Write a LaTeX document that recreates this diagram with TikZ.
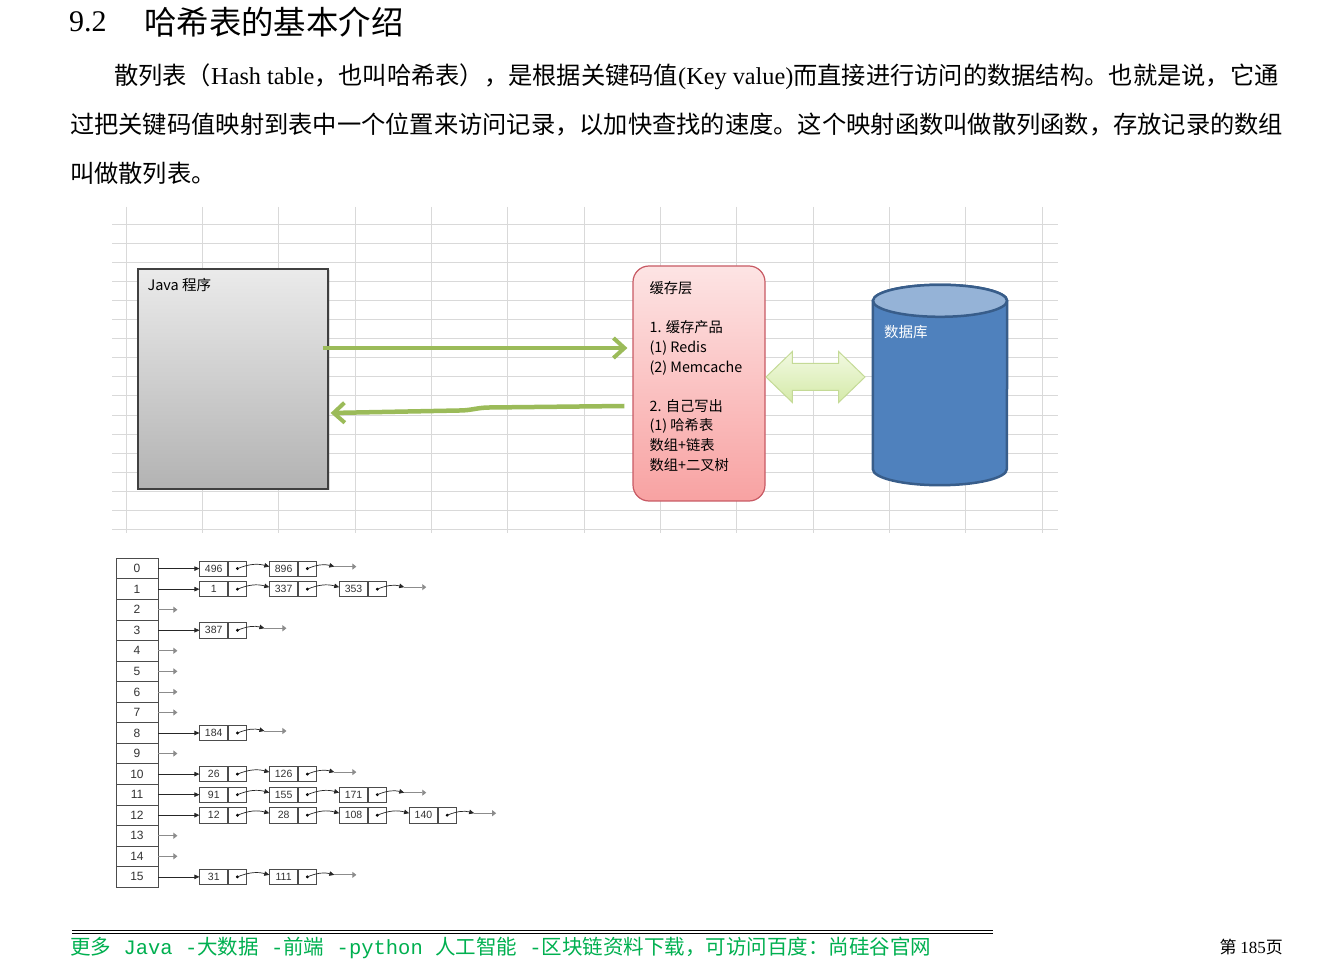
\documentclass[tikz,border=0pt]{standalone}
\usepackage{fontspec}
\setmainfont{Noto Sans CJK SC}
\newfontfamily\latserif{Liberation Serif}
\newfontfamily\arialfont{Liberation Sans}
\newfontfamily\dengkuan{Liberation Mono}
\usetikzlibrary{arrows.meta,positioning,shapes.arrows,shadows}
\definecolor{WanggeGray}{RGB}{217,217,217}
\definecolor{JiantouGreen}{RGB}{155,187,89}
\definecolor{HuancunTop}{RGB}{253,228,228}
\definecolor{HuancunBottom}{RGB}{248,162,162}
\definecolor{HuancunBorder}{RGB}{200,90,100}
\definecolor{QianlvTop}{RGB}{242,249,226}
\definecolor{QianlvBottom}{RGB}{212,234,168}
\definecolor{QianlvBorder}{RGB}{196,218,150}
\definecolor{ShujuBlue}{RGB}{79,129,189}
\definecolor{ShujuBlueLight}{RGB}{149,179,215}
\definecolor{ShujuBorder}{RGB}{56,93,138}
\definecolor{YejiaoGreen}{RGB}{0,176,80}
\tikzset{
  wangge/.style={draw=WanggeGray, line width=0.9pt},
  zhengwen/.style={anchor=west, inner sep=0pt, font=\fontsize{24.26}{28}\selectfont},
  javakuang/.style={draw=black!75, line width=1.3pt, top color=black!8, bottom color=black!30,
                    minimum width=190pt, minimum height=220pt,
                    drop shadow={opacity=0.25, shadow xshift=1.5pt, shadow yshift=-1.5pt}},
  huancunkuang/.style={draw=HuancunBorder, line width=1.2pt, rounded corners=16pt,
                    top color=HuancunTop, bottom color=HuancunBottom,
                    minimum width=132pt, minimum height=235pt},
  shuangjiantou/.style={double arrow, draw=QianlvBorder, line width=1pt, top color=QianlvTop,
                    bottom color=QianlvBottom, minimum height=99pt, minimum width=0pt,
                    double arrow head extend=12pt, double arrow tip angle=88,
                    inner xsep=0pt, inner ysep=13pt},
  shujukuti/.style={draw=ShujuBorder, line width=2.5pt, fill=ShujuBlue},
  lvjiantou/.style={draw=JiantouGreen, line width=4.5pt, -{Straight Barb[length=11pt,width=20pt,line width=4pt]}},
  suoyin/.style={draw=black!70, line width=0.8pt, minimum width=42pt, minimum height=20.55pt, inner sep=0pt,
                 text=black!80, font=\arialfont\fontsize{12}{12}\selectfont},
  zhi/.style={draw=black!70, line width=0.7pt, minimum width=28pt, minimum height=15.3pt, inner sep=0pt,
              text=black!80, font=\arialfont\fontsize{10.5}{10.5}\selectfont},
  zhizhen/.style={draw=black!70, line width=0.7pt, minimum width=18pt, minimum height=15.3pt, inner sep=0pt},
  lianjie/.style={black!85, line width=0.7pt, -{Triangle[length=5pt,width=4.5pt]}},
  kongjiantou/.style={black!45, line width=0.8pt, -{Triangle[length=4pt,width=6pt]}},
}

\begin{document}
\begin{tikzpicture}[x=1pt, y=-1pt]
  \fill[white] (0,0) rectangle (1318,965);
  \useasboundingbox (0,0) rectangle (1318,965);

  % Title and text
  \node[anchor=west, inner sep=0pt, font=\latserif\fontsize{30}{30}\selectfont] (zhangjie) at (69,22) {9.2};
  \node[anchor=west, inner sep=0pt, font=\fontsize{32.4}{32}\selectfont] (biaoti) at (144,22) {哈希表的基本介绍};
  \node[zhengwen] (hang1) at (114,77)
    {散列表（{\latserif Hash table}，也叫哈希表），是根据关键码值{\latserif (Key value)}而直接进行访问的数据结构。也就是说，它通};
  \node[zhengwen] (hang2) at (70,125)
    {过把关键码值映射到表中一个位置来访问记录，以加快查找的速度。这个映射函数叫做散列函数，存放记录的数组};
  \node[zhengwen] (hang3) at (70,173) {叫做散列表。};

  % Grid
  \foreach \i in {0,...,12}
    \draw[wangge] ({126+76.35*\i},207) -- ({126+76.35*\i},533);
  \foreach \j in {0,...,16}
    \draw[wangge] (112,{224+19.1*\j}) -- (1058,{224+19.1*\j});

  % Java, cache, database
  \node[javakuang] (javaChengxu) at (233,379) {};
  \node[anchor=north west, inner sep=0pt, font=\fontsize{14.5}{15}\selectfont] (javaBiaoqian)
    at ([xshift=10pt,yshift=-10pt]javaChengxu.north west) {Java 程序};
  \node[huancunkuang] (huancunCeng) at (699,383.5) {};
  \node[anchor=north west, align=left, inner sep=0pt, font=\fontsize{14.3}{19.6}\selectfont] (huancunWenzi)
    at ([xshift=17pt,yshift=-16pt]huancunCeng.north west)
    {缓存层\\[19.6pt] 1. 缓存产品\\ (1) Redis\\ (2) Memcache\\[19.6pt] 2. 自己写出\\ (1) 哈希表\\ 数组+链表\\ 数组+二叉树};
  \node[shuangjiantou] (shuangxiang) at (815.5,377) {};
  \node[minimum width=134pt, minimum height=200pt, inner sep=0pt] (shujuKu) at (940,385) {};
  \filldraw[shujukuti] ([yshift=-16pt]shujuKu.north west) -- ([yshift=16pt]shujuKu.south west)
    arc[start angle=180, end angle=360, x radius=67pt, y radius=16pt]
    -- ([yshift=-16pt]shujuKu.north east)
    arc[start angle=0, end angle=180, x radius=67pt, y radius=16pt] -- cycle;
  \filldraw[shujukuti, fill=ShujuBlueLight] ([yshift=-16pt]shujuKu.north) ellipse[x radius=67pt, y radius=16pt];
  \node[anchor=west, inner sep=0pt, text=white, font=\fontsize{14.5}{15}\selectfont] (shujuKuWenzi) at (884,332) {数据库};

  \draw[lvjiantou] ([xshift=-6pt,yshift=31pt]javaChengxu.east) -- ([xshift=-5pt,yshift=35.5pt]huancunCeng.west);
  \draw[lvjiantou] ([xshift=-8pt,yshift=-22.5pt]huancunCeng.west) -- ++(-135,1.5)
    to[out=180,in=0] ++(-30,3) -- ([xshift=2pt,yshift=-34pt]javaChengxu.east);

  % Hash table
  \foreach \r in {0,...,15}
    \node[suoyin] (idx\r) at (137,{568.6+20.55*\r}) {\r};
  \foreach \r/\vals/\n in {0/{496,896}/2, 1/{1,337,353}/3, 3/{387}/1, 8/{184}/1, 10/{26,126}/2,
                           11/{91,155,171}/3, 12/{12,28,108,140}/4, 15/{31,111}/2} {
    \foreach \v [count=\c] in \vals {
      \pgfmathtruncatemacro\q{\c-1}
      \ifnum\c=1
        \node[zhi, right=41pt of idx\r] (v\r-\c) {\v};
        \draw[lianjie] (idx\r) -- (v\r-\c);
      \else
        \node[zhi, right=22.5pt of p\r-\q] (v\r-\c) {\v};
        \draw[lianjie] (p\r-\q.center) to[out=22,in=165] ([yshift=2pt]v\r-\c.west);
      \fi
      \node[zhizhen, right=0pt of v\r-\c] (p\r-\c) {};
      \fill (p\r-\c) circle (1.6pt);
    }
    \coordinate (w\r) at ([xshift=27pt,yshift=2pt]p\r-\n.center);
    \coordinate (e\r) at ([xshift=22pt]w\r);
    \draw[lianjie] (p\r-\n.center) to[out=22,in=165] (w\r);
    \draw[kongjiantou] (w\r) -- (e\r);
  }
  \foreach \r in {2,4,5,6,7,9,13,14} {
    \coordinate[right=19pt of idx\r] (k\r);
    \draw[kongjiantou] (idx\r) -- (k\r);
  }

  % Footer
  \draw[line width=1.6pt] (72,930.5) -- (993,930.5);
  \draw[line width=0.5pt] (72,933.5) -- (993,933.5);
  \node[anchor=west, inner sep=0pt, text=YejiaoGreen, font=\fontsize{20.5}{20.5}\selectfont] (yejiao) at (70,948)
    {更多{\dengkuan\ Java -}大数据{\dengkuan\ -}前端{\dengkuan\ -python }人工智能{\dengkuan\ -}区块链资料下载，可访问百度：尚硅谷官网};
  \node[anchor=east, inner sep=0pt, font=\fontsize{17}{17}\selectfont] (yema) at (1283,947) {第 {\latserif 185}页};
\end{tikzpicture}
\end{document}
